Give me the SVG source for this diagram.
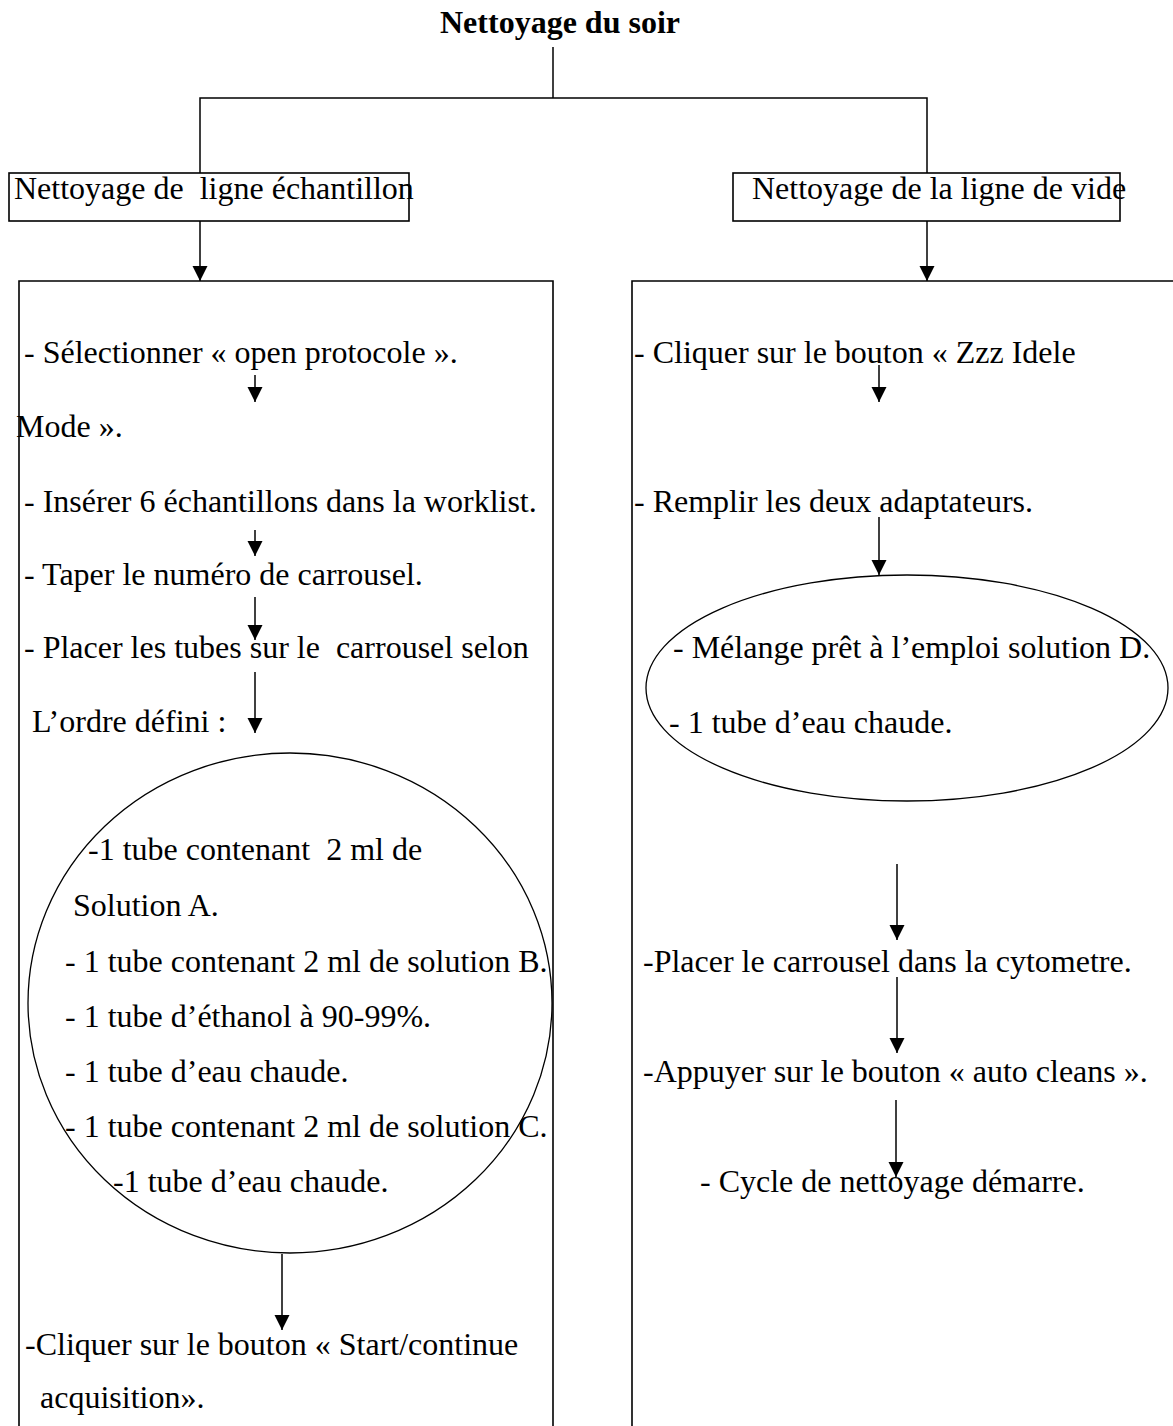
<svg xmlns="http://www.w3.org/2000/svg" width="1173" height="1426" viewBox="0 0 1173 1426">
  <style>
    text { font-family: "Liberation Serif", "Times New Roman", serif; font-size: 32px; fill: #000; white-space: pre; }
    .title { font-weight: bold; }
    .box { fill: none; stroke: #000; stroke-width: 1.6; }
    .shape { fill: none; stroke: #000; stroke-width: 1.3; }
    .link { fill: none; stroke: #000; stroke-width: 1.5; }
    .arrow { fill: none; stroke: #000; stroke-width: 1.5; marker-end: url(#head); }
  </style>
  <defs>
    <marker id="head" markerUnits="userSpaceOnUse" markerWidth="16" markerHeight="16" viewBox="0 0 16 16" refX="15" refY="8" orient="auto">
      <path d="M0,0.5 L15,8 L0,15.5 Z" fill="#000"/>
    </marker>
  </defs>

  <rect width="1173" height="1426" fill="#fff"/>

  <!-- root title -->
  <g id="title">
    <text class="title" x="440" y="33">Nettoyage du soir</text>
  </g>

  <!-- branch headers -->
  <g id="header-echantillon">
    <rect class="box" x="9" y="173" width="400" height="48"/>
    <text x="14" y="199" xml:space="preserve">Nettoyage de  ligne échantillon</text>
  </g>
  <g id="header-vide">
    <rect class="box" x="733" y="173" width="387" height="48"/>
    <text x="752" y="199">Nettoyage de la ligne de vide</text>
  </g>

  <!-- left procedure panel -->
  <g id="panel-echantillon">
    <path class="box" d="M19,1430 V281 H553 V1430"/>
    <text x="24" y="363">- Sélectionner « open protocole ».</text>
    <text x="16" y="437">Mode ».</text>
    <text x="24" y="512">- Insérer 6 échantillons dans la worklist.</text>
    <text x="24" y="585">- Taper le numéro de carrousel.</text>
    <text x="24" y="658" xml:space="preserve">- Placer les tubes sur le  carrousel selon</text>
    <text x="32" y="732">L’ordre défini :</text>
    <text x="25" y="1355">-Cliquer sur le bouton « Start/continue</text>
    <text x="40" y="1408">acquisition».</text>
  </g>

  <!-- tube sequence -->
  <g id="tubes-echantillon">
    <ellipse class="shape" cx="290" cy="1003" rx="262" ry="250"/>
    <text x="88" y="860" xml:space="preserve">-1 tube contenant  2 ml de</text>
    <text x="73" y="916">Solution A.</text>
    <text x="65" y="972">- 1 tube contenant 2 ml de solution B.</text>
    <text x="65" y="1027">- 1 tube d’éthanol à 90-99%.</text>
    <text x="65" y="1082">- 1 tube d’eau chaude.</text>
    <text x="65" y="1137">- 1 tube contenant 2 ml de solution C.</text>
    <text x="113" y="1192">-1 tube d’eau chaude.</text>
  </g>

  <!-- right procedure panel -->
  <g id="panel-vide">
    <path class="box" d="M632,1430 V281 H1180"/>
    <text x="634" y="363">- Cliquer sur le bouton « Zzz Idele</text>
    <text x="634" y="512">- Remplir les deux adaptateurs.</text>
    <text x="643" y="972">-Placer le carrousel dans la cytometre.</text>
    <text x="643" y="1082">-Appuyer sur le bouton « auto cleans ».</text>
    <text x="700" y="1192">- Cycle de nettoyage démarre.</text>
  </g>

  <!-- adapter contents -->
  <g id="adaptateurs-vide">
    <ellipse class="shape" cx="907" cy="688" rx="261" ry="113"/>
    <text x="673" y="658">- Mélange prêt à l’emploi solution D.</text>
    <text x="669" y="733">- 1 tube d’eau chaude.</text>
  </g>

  <!-- connectors -->
  <g id="connectors">
    <path class="link" d="M553,47 V98"/>
    <path class="link" d="M200,173 V98 H927 V173"/>
    <path class="arrow" d="M200,221 V281"/>
    <path class="arrow" d="M927,221 V281"/>

    <path class="arrow" d="M255,375 V402"/>
    <path class="arrow" d="M255,530 V556"/>
    <path class="arrow" d="M255,597 V640"/>
    <path class="arrow" d="M255,672 V733"/>
    <path class="arrow" d="M282,1254 V1330"/>

    <path class="arrow" d="M879,365 V402"/>
    <path class="arrow" d="M879,517 V575"/>
    <path class="arrow" d="M897,864 V940"/>
    <path class="arrow" d="M897,977 V1053"/>
    <path class="arrow" d="M896,1100 V1177"/>
  </g>
</svg>
